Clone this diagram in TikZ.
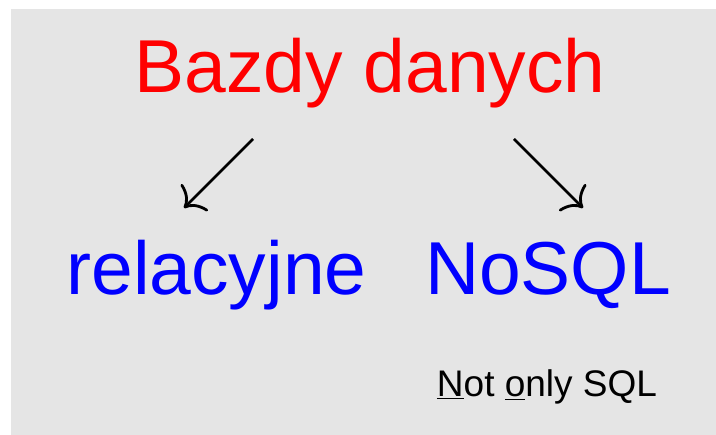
\documentclass[tikz,border=0pt]{standalone}
\usepackage{fontspec}
\setmainfont{Liberation Sans}
\usetikzlibrary{arrows.meta}
\definecolor{bg}{HTML}{E5E5E5}
\begin{document}
\begin{tikzpicture}[x=1pt,y=-1pt,
  big/.style={inner sep=0pt,anchor=base,font=\fontsize{75}{80}\selectfont},
  small/.style={inner sep=0pt,anchor=base,font=\fontsize{37}{40}\selectfont},
  arr/.style={line width=2.8pt,-{Computer Modern Rightarrow[length=16pt,width=38pt,line width=2.8pt]}}]
\useasboundingbox (0,0) rectangle (716,435);
\fill[bg] (11,9) rectangle (716,435);
\node[big,text=red] (title) at (370,93) {Bazdy danych};
\node[big,text=blue] (rel) at (216.5,295) {relacyjne};
\node[big,text=blue] (nosql) at (548,295) {NoSQL};
\node[small] (expl) at (547,397) {\underline{N}ot \underline{o}nly SQL};
\coordinate (l1) at (253,139);
\coordinate (l2) at (184,208);
\coordinate (r1) at (514,139);
\coordinate (r2) at (583,208);
\draw[arr] (l1) -- (l2);
\draw[arr] (r1) -- (r2);
\end{tikzpicture}
\end{document}
